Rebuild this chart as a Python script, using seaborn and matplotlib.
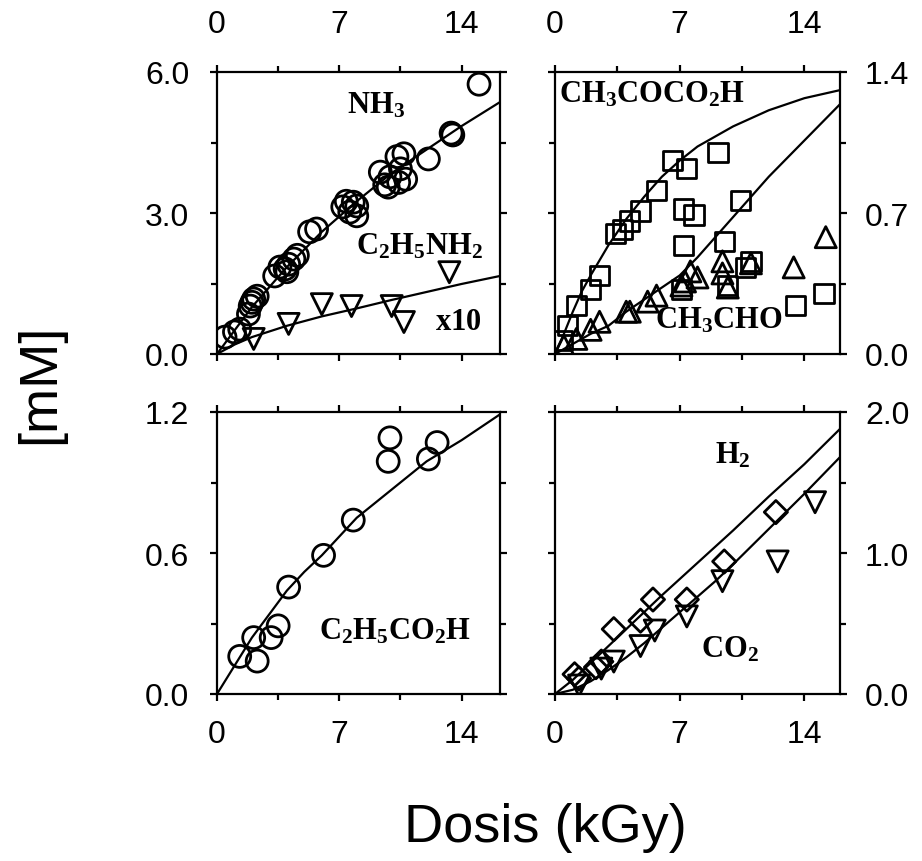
import matplotlib
matplotlib.use("Agg")
import matplotlib.pyplot as plt
import seaborn as sns

# ---------------- data ----------------
# top-left: NH3 (circles) and C2H5NH2 x10 (down triangles)
nh3_x = [0.46, 1.0, 1.3, 1.8, 1.9, 2.0, 2.1, 2.3, 3.3, 3.6, 3.9, 4.0, 4.1, 4.4, 4.6, 5.3, 5.7,
         7.2, 7.4, 7.6, 7.8, 8.0, 8.0, 9.35, 9.6, 9.8, 9.9, 10.3, 10.4, 10.5, 10.7, 10.8,
         12.1, 13.4, 13.5, 15.0]
nh3_y = [0.36, 0.47, 0.53, 0.85, 1.02, 1.10, 1.17, 1.23, 1.66, 1.85, 1.81, 1.75, 1.91, 2.02, 2.10, 2.60, 2.66,
         3.13, 3.25, 3.02, 3.23, 2.94, 3.15, 3.87, 3.60, 3.55, 3.77, 4.20, 3.65, 3.94, 4.26, 3.72,
         4.15, 4.70, 4.66, 5.74]
nh3_fit_x = [0, 2, 4, 6, 8, 10, 12, 14, 16.2]
nh3_fit_y = [0, 1.00, 1.85, 2.60, 3.25, 3.85, 4.35, 4.85, 5.36]

etnh2_x = [2.1, 4.1, 6.0, 7.7, 10.0, 10.7, 13.3]
etnh2_y = [0.32, 0.64, 1.06, 1.02, 1.02, 0.68, 1.74]
etnh2_fit_x = [0, 1, 2, 4, 6, 8, 10, 12, 14, 16.2]
etnh2_fit_y = [0, 0.20, 0.36, 0.60, 0.80, 0.97, 1.15, 1.32, 1.49, 1.66]

# top-right: CH3COCO2H (squares) and CH3CHO (up triangles)
pyr_x = [0.4, 0.7, 1.2, 2.0, 2.5, 3.4, 3.8, 4.2, 4.8, 5.7, 6.6, 7.4, 9.15,
         7.1, 7.2, 7.2, 7.8, 9.5, 9.7, 10.4, 10.7, 11.0, 13.5, 15.1]
pyr_y = [0.065, 0.14, 0.24, 0.32, 0.39, 0.60, 0.62, 0.66, 0.71, 0.81, 0.96, 0.92, 1.00,
         0.32, 0.72, 0.54, 0.69, 0.56, 0.34, 0.76, 0.43, 0.46, 0.24, 0.30]
pyr_fit_x = [0, 0.5, 1, 1.5, 2, 3, 4, 5, 6, 7, 8, 9, 10, 12, 14, 16]
pyr_fit_y = [0, 0.10, 0.21, 0.31, 0.39, 0.54, 0.67, 0.78, 0.88, 0.96, 1.03, 1.08, 1.13, 1.21, 1.27, 1.31]

acet_x = [0.5, 1.2, 2.0, 2.5, 4.0, 4.2, 5.2, 5.7, 7.1, 7.3, 7.6, 8.0, 9.4, 9.4, 9.7, 11.0, 13.4, 15.2]
acet_y = [0.04, 0.075, 0.12, 0.16, 0.21, 0.21, 0.26, 0.29, 0.34, 0.36, 0.41, 0.38, 0.46, 0.40, 0.33, 0.45, 0.43, 0.58]
acet_fit_x = [0, 1, 2, 3, 4, 5, 6, 7, 8, 9, 10, 11, 12, 13, 14, 15, 16]
acet_fit_y = [0, 0.05, 0.10, 0.14, 0.21, 0.27, 0.33, 0.39, 0.48, 0.58, 0.68, 0.78, 0.88, 0.97, 1.06, 1.15, 1.24]

# bottom-left: C2H5CO2H (circles)
prop_x = [1.3, 2.1, 2.3, 3.1, 3.5, 4.1, 6.1, 7.8, 9.8, 9.9, 12.1, 12.6]
prop_y = [0.16, 0.24, 0.14, 0.24, 0.29, 0.455, 0.59, 0.74, 0.99, 1.09, 1.00, 1.07]
prop_fit_x = [0, 1, 2, 3, 4, 5, 6, 7, 8, 10, 12, 14, 16.2]
prop_fit_y = [0, 0.12, 0.24, 0.34, 0.44, 0.52, 0.59, 0.67, 0.75, 0.87, 0.99, 1.08, 1.19]

# bottom-right: H2 (diamonds) and CO2 (down triangles)
h2_x = [1.1, 1.35, 2.3, 2.6, 3.3, 4.8, 5.5, 7.4, 9.5, 12.4]
h2_y = [0.14, 0.11, 0.19, 0.23, 0.46, 0.52, 0.67, 0.67, 0.94, 1.29]
h2_fit_x = [0, 1, 2, 4, 6, 8, 10, 12, 14, 16]
h2_fit_y = [0, 0.10, 0.22, 0.46, 0.70, 0.93, 1.16, 1.40, 1.63, 1.88]

co2_x = [1.35, 2.6, 3.3, 4.8, 5.6, 7.4, 9.4, 12.5, 14.6]
co2_y = [0.06, 0.18, 0.23, 0.34, 0.45, 0.55, 0.80, 0.94, 1.36]
co2_fit_x = [0, 1, 2, 3, 4, 5, 6, 7, 8, 9, 10, 12, 14, 16]
co2_fit_y = [0, 0.03, 0.09, 0.17, 0.26, 0.36, 0.47, 0.58, 0.69, 0.80, 0.92, 1.17, 1.42, 1.68]

x_major = [0, 7, 14]
x_minor = [3.5, 10.5]

# ---------------- style ----------------
sns.set_style("ticks")
plt.rcParams["font.family"] = ["Liberation Sans", "DejaVu Sans"]
plt.rcParams["mathtext.fontset"] = "custom"
plt.rcParams["mathtext.rm"] = "Liberation Serif"
plt.rcParams["mathtext.bf"] = "Liberation Serif:bold"
plt.rcParams["mathtext.it"] = "Liberation Serif:italic"

fig = plt.figure(figsize=(9.22, 8.62), dpi=100)
W, H = 922, 862

def make_ax(l, t, r, b):
    return fig.add_axes([l / W, 1 - b / H, (r - l) / W, (b - t) / H])

ax_tl = make_ax(217, 73, 500, 355)
ax_tr = make_ax(555, 73, 840, 355)
ax_bl = make_ax(217, 413, 500, 695)
ax_br = make_ax(555, 413, 840, 695)

TICKFS = 23
LW = 1.6

def style_axis(ax, xlim, ylim, yticks, yminor, yfmt, xtop, yright):
    ax.set_xlim(*xlim)
    ax.set_ylim(*ylim)
    ax.set_xticks(x_major)
    ax.set_xticks(x_minor, minor=True)
    ax.set_yticks(yticks)
    ax.set_yticks(yminor, minor=True)
    ax.set_xticklabels([str(v) for v in x_major])
    ax.set_yticklabels([yfmt.format(v) for v in yticks])
    for s in ax.spines.values():
        s.set_linewidth(LW)
        s.set_color("black")
    ax.tick_params(which="both", direction="out", top=True, bottom=True, left=True, right=True,
                   width=LW, color="black", labelsize=TICKFS, labelcolor="black")
    ax.tick_params(which="major", length=5)
    ax.tick_params(which="minor", length=4)
    ax.tick_params(axis="x", labeltop=xtop, labelbottom=not xtop, pad=(19 if xtop else 13))
    ax.tick_params(axis="y", labelleft=not yright, labelright=yright, pad=(13 if yright else 15))
    ax.set_xlabel("")
    ax.set_ylabel("")


def scat(ax, x, y, marker, s):
    sns.scatterplot(x=x, y=y, ax=ax, marker=marker, s=s, color="black", linewidth=2.0, legend=False)
    coll = ax.collections[-1]
    coll.set_facecolor("none")
    coll.set_edgecolor("black")
    coll.set_linewidth(2.0)


def fit(ax, x, y):
    sns.lineplot(x=x, y=y, ax=ax, color="black", lw=LW, estimator=None, legend=False)


# top-left
fit(ax_tl, nh3_fit_x, nh3_fit_y)
fit(ax_tl, etnh2_fit_x, etnh2_fit_y)
scat(ax_tl, nh3_x, nh3_y, "o", 250)
scat(ax_tl, etnh2_x, etnh2_y, "v", 230)
style_axis(ax_tl, (0, 16.2), (0, 6.0), [0, 3, 6], [1.5, 4.5], "{:.1f}", True, False)
TXT = dict(fontsize=22, color="black")
ax_tl.text(9.1, 5.3, r"$\mathbf{NH_3}$", ha="center", va="center", **TXT)
ax_tl.text(11.6, 2.3, r"$\mathbf{C_2H_5NH_2}$", ha="center", va="center", **TXT)
ax_tl.text(13.8, 0.70, r"$\mathbf{x10}$", ha="center", va="center", **TXT)

# top-right
fit(ax_tr, pyr_fit_x, pyr_fit_y)
fit(ax_tr, acet_fit_x, acet_fit_y)
scat(ax_tr, pyr_x, pyr_y, "s", 190)
scat(ax_tr, acet_x, acet_y, "^", 230)
style_axis(ax_tr, (0, 16.0), (0, 1.4), [0, 0.7, 1.4], [0.35, 1.05], "{:.1f}", True, True)
ax_tr.text(0.2, 1.37, r"$\mathbf{CH_3COCO_2H}$", ha="left", va="top", **TXT)
ax_tr.text(9.2, 0.17, r"$\mathbf{CH_3CHO}$", ha="center", va="center", **TXT)

# bottom-left
fit(ax_bl, prop_fit_x, prop_fit_y)
scat(ax_bl, prop_x, prop_y, "o", 250)
style_axis(ax_bl, (0, 16.2), (0, 1.2), [0, 0.6, 1.2], [0.3, 0.9], "{:.1f}", False, False)
ax_bl.text(10.2, 0.27, r"$\mathbf{C_2H_5CO_2H}$", ha="center", va="center", **TXT)

# bottom-right
fit(ax_br, h2_fit_x, h2_fit_y)
fit(ax_br, co2_fit_x, co2_fit_y)
scat(ax_br, h2_x, h2_y, "D", 140)
scat(ax_br, co2_x, co2_y, "v", 230)
style_axis(ax_br, (0, 16.0), (0, 2.0), [0, 1.0, 2.0], [0.5, 1.5], "{:.1f}", False, True)
ax_br.text(10.0, 1.70, r"$\mathbf{H_2}$", ha="center", va="center", **TXT)
ax_br.text(9.8, 0.32, r"$\mathbf{CO_2}$", ha="center", va="center", **TXT)

fig.text(545 / W, 1 - 828 / H, "Dosis (kGy)", ha="center", va="center", fontsize=39, color="black")
fig.text(40 / W, 1 - 384 / H, "[mM]", ha="center", va="center", rotation=90, fontsize=39, color="black")

fig.savefig("out.png", dpi=100)
